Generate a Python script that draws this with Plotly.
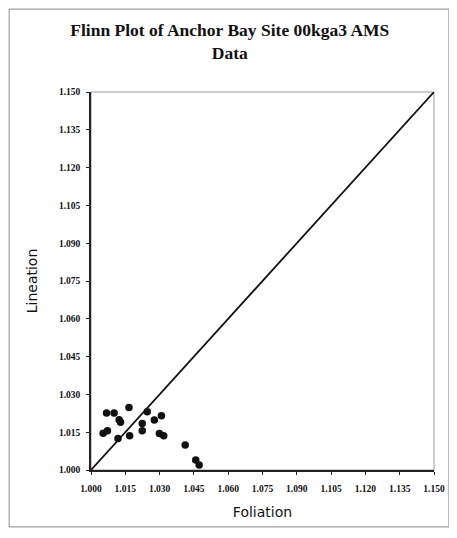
import plotly.graph_objects as go

foliation = [1.0068, 1.0101, 1.0166, 1.0123, 1.0129, 1.0246, 1.0308, 1.0277, 1.0224, 1.0224,
             1.0053, 1.0072, 1.0118, 1.0169, 1.0299, 1.0318, 1.0412, 1.0458, 1.0473]
lineation = [1.0226, 1.0226, 1.0248, 1.0199, 1.0189, 1.0231, 1.0215, 1.0198, 1.0185, 1.0156,
             1.0146, 1.0156, 1.0125, 1.0136, 1.0145, 1.0136, 1.0099, 1.0040, 1.0020]
diag = [1.000, 1.150]
ticks = [1.000, 1.015, 1.030, 1.045, 1.060, 1.075, 1.090, 1.105, 1.120, 1.135, 1.150]
tick_labels = ["%.3f" % t for t in ticks]

fig = go.Figure()
fig.add_trace(go.Scatter(x=diag, y=diag, mode="lines",
                         line=dict(color="#111111", width=1.8), hoverinfo="skip"))
fig.add_trace(go.Scatter(x=foliation, y=lineation, mode="markers",
                         marker=dict(color="#111111", size=7.5, line=dict(width=0))))

OFF = 8  # page body margin
W, H = 457 - OFF, 538 - 16
L, R, T, B = 91 - OFF, 437 - OFF, 92 - OFF, 471 - OFF
def px(x):
    return (x - OFF - L) / (R - L)
def py(y):
    return (B - (y - OFF)) / (B - T)

fig.update_layout(
    width=W, height=H,
    margin=dict(l=L, r=W - R, t=T, b=H - B),
    paper_bgcolor="white", plot_bgcolor="white",
    showlegend=False,
    title=dict(text="<b>Flinn Plot of Anchor Bay Site 00kga3 AMS<br>Data</b>",
               x=px(231), xref="paper", xanchor="center",
               y=1 - 28 / H, yref="container", yanchor="top",
               font=dict(family="Liberation Serif", size=17.5, color="#111111")),
    font=dict(family="Liberation Serif", color="#111111"),
    shapes=[
        dict(type="rect", xref="paper", yref="paper", x0=px(8.5), x1=px(452), y0=py(528), y1=py(9),
             line=dict(color="#a0a0a0", width=1.2), layer="below"),
        dict(type="rect", xref="paper", yref="paper", x0=0, x1=1, y0=0, y1=1,
             line=dict(color="#9a9a9a", width=1), layer="below"),
    ],
)
fig.update_xaxes(range=[1.0, 1.15], tickvals=ticks, ticktext=tick_labels,
                 showgrid=False, zeroline=False, showline=True, linecolor="#222222", linewidth=1.5,
                 ticks="outside", ticklen=3, tickcolor="#222222", ticklabelstandoff=6,
                 tickfont=dict(family="Liberation Serif", size=9.5, color="#111111", weight="bold"),
                 title=dict(text="Foliation", standoff=14,
                            font=dict(family="DejaVu Sans", size=14, color="#111111")))
fig.update_yaxes(range=[1.0, 1.15], tickvals=ticks, ticktext=tick_labels,
                 showgrid=False, zeroline=False, showline=True, linecolor="#222222", linewidth=1.5,
                 ticks="outside", ticklen=3, tickcolor="#222222", ticklabelstandoff=4,
                 tickfont=dict(family="Liberation Serif", size=9.5, color="#111111", weight="bold"),
                 title=dict(text="Lineation", standoff=18,
                            font=dict(family="DejaVu Sans", size=14, color="#111111")))

fig.write_html("out.html")
